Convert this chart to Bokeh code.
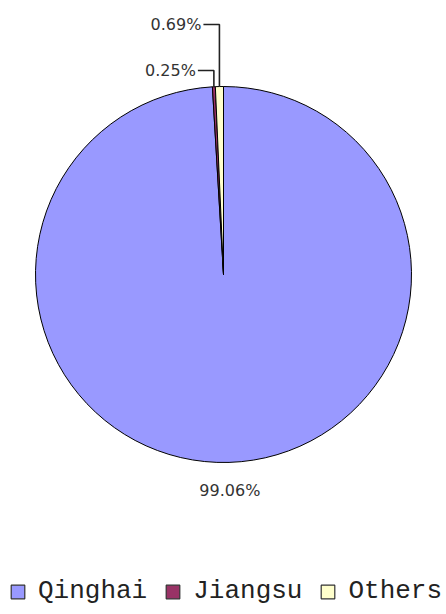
import math
from bokeh.plotting import figure
from bokeh.models import Range1d, ColumnDataSource, Legend, LegendItem
from bokeh.core.properties import value
from bokeh.embed import file_html
from bokeh.resources import INLINE

# ---- data ----
categories = ["Qinghai", "Jiangsu", "Others"]
shares = [99.06, 0.25, 0.69]
labels = ["99.06%", "0.25%", "0.69%"]
colors = ["#9999FF", "#993366", "#FFFFCC"]

W, H = 446, 614
p = figure(width=W, height=H, output_backend="svg", toolbar_location=None,
           x_range=Range1d(0, W), y_range=Range1d(0, H), min_border=0)
p.axis.visible = False
p.grid.visible = False
p.outline_line_color = None
p.background_fill_color = "white"
p.border_fill_color = "white"

cx, cy, r = 223, 340, 188
total = sum(shares)
start = []
end = []
mid = []
acc = 0.0
for s in shares:
    a0 = math.pi / 2 - 2 * math.pi * acc / total
    acc += s
    a1 = math.pi / 2 - 2 * math.pi * acc / total
    start.append(a0)
    end.append(a1)
    mid.append((a0 + a1) / 2)

src = ColumnDataSource(dict(cat=categories, start=start, end=end, color=colors))
p.wedge(x=cx, y=cy, radius=r, start_angle="start", end_angle="end",
        direction="clock", fill_color="color", line_color="black",
        line_width=1, source=src)

# labels
font = value("DejaVu Sans")
fsize = "16px"
tcol = "#333333"
# big slice label below
qx = cx + (r + 28) * math.cos(mid[0])
qy = cy + (r + 28) * math.sin(mid[0])
p.text(x=[qx], y=[qy], text=[labels[0]], text_align="center",
       text_baseline="middle", text_font=font, text_font_size=fsize,
       text_color=tcol)

# small slices with leader lines
lift = {1: 16, 2: 62}  # label height above pie top
for i in (1, 2):
    ex = cx + r * math.cos(mid[i])
    ey = cy + r * math.sin(mid[i])
    ly = cy + r + lift[i]
    hx = ex - 16
    p.line(x=[ex, ex, hx], y=[ey, ly, ly], line_color="#222222", line_width=1.6)
    p.text(x=[hx - 2], y=[ly], text=[labels[i]], text_align="right",
           text_baseline="middle", text_font=font, text_font_size=fsize,
           text_color=tcol)

# legend
legend_items = []
for i, c in enumerate(categories):
    rr = p.rect(x=[-100], y=[-100], width=1, height=1, fill_color=colors[i],
                line_color="#333333", line_width=1.2)
    legend_items.append(LegendItem(label=c, renderers=[rr]))
leg = Legend(items=legend_items, orientation="horizontal", location=(9, 8),
             label_text_font="Liberation Mono", label_text_font_size="26px",
             label_text_color="#222222", label_height=17,
             glyph_width=17, glyph_height=17, label_standoff=12, spacing=17,
             border_line_color=None, background_fill_alpha=0, padding=0, margin=0)
p.add_layout(leg)

open("out.html", "w").write(file_html(p, INLINE))
